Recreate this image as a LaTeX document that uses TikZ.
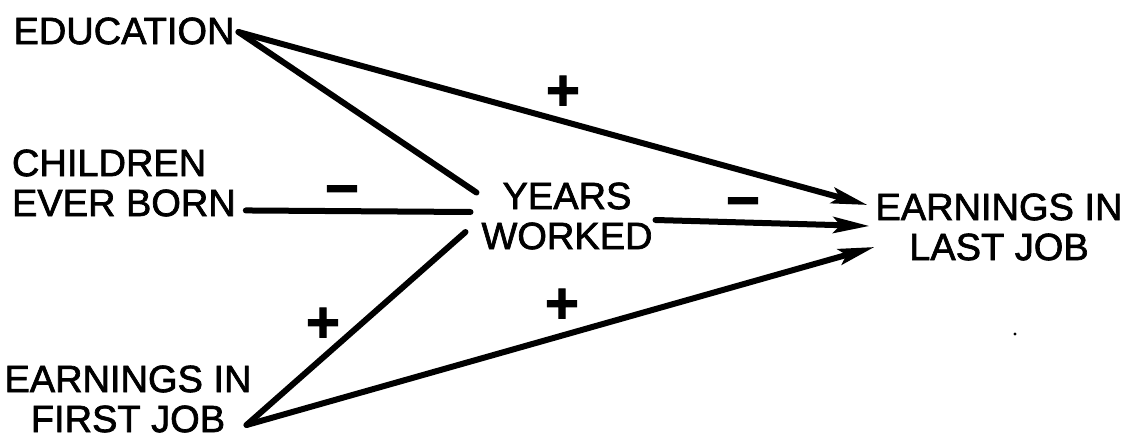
\documentclass[tikz,border=0pt]{standalone}
\usepackage{fontspec}
\setmainfont[FakeBold=1.8]{Liberation Sans}
\usetikzlibrary{arrows.meta}
\tikzset{
  lbl/.style={inner sep=0pt, outer sep=0pt, font=\fontsize{38}{40}\selectfont},
  sgn/.style={inner sep=0pt, outer sep=0pt, anchor=base, font=\fontsize{58}{58}\selectfont\bfseries},
  link/.style={line width=6pt, line cap=round},
  arr/.style={link, -{Stealth[length=36pt,width=16pt,inset=7pt]}}
}
\begin{document}
\begin{tikzpicture}[x=1pt,y=-1pt]
\useasboundingbox (0,0) rectangle (1128,442);
\node[lbl] (edu) at (124,31) {EDUCATION};
\node[lbl, align=left, anchor=west] (chi) at (12,183) {CHILDREN\\EVER BORN};
\node[lbl, align=center] (yrs) at (567,216) {YEARS\\WORKED};
\node[lbl, align=center] (last) at (999,227) {EARNINGS IN\\LAST JOB};
\node[lbl, align=center] (first) at (128,399) {EARNINGS IN\\FIRST JOB};

\coordinate (eduE) at ([xshift=4pt,yshift=-1pt]edu.east);
\draw[arr] (eduE) -- ([xshift=-8pt,yshift=22pt]last.west);
\draw[link] (eduE) -- ([xshift=-5pt,yshift=-10pt]yrs.north west);
\draw[link] ([xshift=10pt,yshift=6pt]chi.south east) -- ([xshift=-11pt,yshift=4pt]yrs.west);
\coordinate (firstE) at ([xshift=-5pt,yshift=-26pt]first.east);
\draw[link] (firstE) -- ([xshift=-16pt,yshift=-16pt]yrs.west);
\draw[arr] (firstE) -- ([xshift=-1pt,yshift=-20pt]last.west);
\draw[arr] ([xshift=3pt,yshift=-4pt]yrs.east) -- ([xshift=-6pt,yshift=1pt]last.west);

\node[sgn] (pa) at (563,110) {+};
\node[sgn] (ma) at (342,208) {−};
\node[sgn] (mb) at (743,220) {−};
\node[sgn] (pb) at (323,342) {+};
\node[sgn] (pc) at (562,323) {+};
\fill (1015,334) circle (1.6pt);
\end{tikzpicture}
\end{document}
